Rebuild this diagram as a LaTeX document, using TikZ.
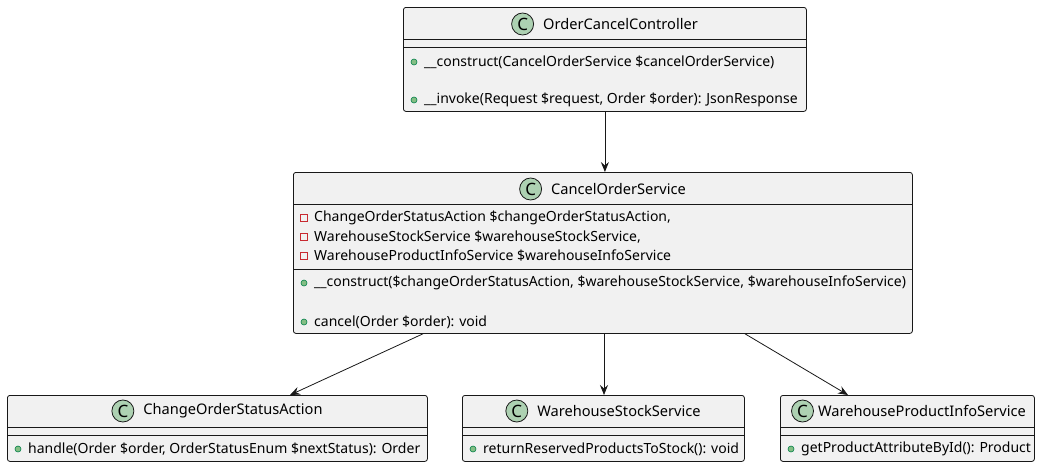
\documentclass[tikz,border=0pt]{standalone}
\usepackage{fontspec}
\setmainfont{Noto Sans}
\usetikzlibrary{arrows.meta,positioning}
\definecolor{boxfill}{HTML}{F1F1F1}
\definecolor{boxline}{HTML}{181818}
\definecolor{iconfill}{HTML}{ADD1B2}
\definecolor{pubfill}{HTML}{84BE84}
\definecolor{publine}{HTML}{038048}
\definecolor{privline}{HTML}{C82930}

\begin{document}
\begin{tikzpicture}[x=1pt,y=-1pt,
    classbox/.style={draw=boxline,fill=boxfill,rounded corners=2.5pt,line width=0.8pt,anchor=north west,inner sep=0pt},
    title/.style={inner sep=0pt,font=\fontsize{14.6}{16}\selectfont},
    cicon/.style={circle,draw=boxline,fill=iconfill,minimum size=22pt,inner sep=0pt,line width=0.8pt,font=\fontsize{17}{18}\selectfont\bfseries},
    member/.style={anchor=west,inner sep=0pt,font=\fontsize{14}{16}\selectfont},
    pub/.style={circle,draw=publine,fill=pubfill,minimum size=6pt,inner sep=0pt,line width=0.6pt},
    priv/.style={rectangle,draw=privline,minimum size=7pt,inner sep=0pt,line width=0.7pt},
    sep/.style={draw=boxline,line width=0.8pt},
    dep/.style={draw=boxline,line width=0.8pt,-{Stealth[length=10pt,width=8pt,inset=3.5pt]}}]
    \useasboundingbox[fill=white] (0,0) rectangle (1040,467);

    % class boxes
    \node[classbox,minimum width=403pt,minimum height=104pt] (ctrl) at (403,7) {};
    \node[classbox,minimum width=619pt,minimum height=161pt] (cancelSvc) at (293,172) {};
    \node[classbox,minimum width=420pt,minimum height=66pt] (statusAction) at (7,395) {};
    \node[classbox,minimum width=282pt,minimum height=66pt] (stockSvc) at (462,395) {};
    \node[classbox,minimum width=254pt,minimum height=66pt] (infoSvc) at (780,395) {};

    % compartments
    \draw[sep] (ctrl.west |- 0,39.5) -- (ctrl.east |- 0,39.5);
    \draw[sep] (ctrl.west |- 0,47.5) -- (ctrl.east |- 0,47.5);
    \draw[sep] (cancelSvc.west |- 0,204) -- (cancelSvc.east |- 0,204);
    \draw[sep] (cancelSvc.west |- 0,269) -- (cancelSvc.east |- 0,269);
    \foreach \c in {statusAction,stockSvc,infoSvc} {
        \draw[sep] (\c.west |- 0,427) -- (\c.east |- 0,427);
        \draw[sep] (\c.west |- 0,435) -- (\c.east |- 0,435);
    }

    % titles
    \node[title] (ctrlTitle) at (620.5,24) {OrderCancelController};
    \node[cicon,left=9pt of ctrlTitle] (ctrlIcon) {C};
    \node[title] (cancelSvcTitle) at (618.5,189) {CancelOrderService};
    \node[cicon,left=9pt of cancelSvcTitle] (cancelSvcIcon) {C};
    \node[title] (statusActionTitle) at (233,411) {ChangeOrderStatusAction};
    \node[cicon,left=9pt of statusActionTitle] (statusActionIcon) {C};
    \node[title] (stockSvcTitle) at (619,411) {WarehouseStockService};
    \node[cicon,left=9pt of stockSvcTitle] (stockSvcIcon) {C};
    \node[title] (infoSvcTitle) at (922,411) {WarehouseProductInfoService};
    \node[cicon,left=4pt of infoSvcTitle] (infoSvcIcon) {C};

    % members
    \node[pub] (ctrlPubA) at (414,62) {};
    \node[member] (ctrlM1) at (424,62) {\_\_construct(CancelOrderService \$cancelOrderService)};
    \node[pub] (ctrlPubB) at (414,100) {};
    \node[member] (ctrlM2) at (424,100) {\_\_invoke(Request \$request, Order \$order): JsonResponse};

    \node[priv] (svcPrivA) at (304,218) {};
    \node[member] (svcF1) at (314,218) {ChangeOrderStatusAction \$changeOrderStatusAction,};
    \node[priv] (svcPrivB) at (304,237) {};
    \node[member] (svcF2) at (314,237) {WarehouseStockService \$warehouseStockService,};
    \node[priv] (svcPrivC) at (304,256) {};
    \node[member] (svcF3) at (314,256) {WarehouseProductInfoService \$warehouseInfoService};
    \node[pub] (svcPubA) at (304,283) {};
    \node[member] (svcM1) at (314,283) {\_\_construct(\$changeOrderStatusAction, \$warehouseStockService, \$warehouseInfoService)};
    \node[pub] (svcPubB) at (304,322) {};
    \node[member] (svcM2) at (314,322) {cancel(Order \$order): void};

    \node[pub] (actionPub) at (18,449) {};
    \node[member] (actionM1) at (28,449) {handle(Order \$order, OrderStatusEnum \$nextStatus): Order};
    \node[pub] (stockPub) at (473,449) {};
    \node[member] (stockM1) at (483,449) {returnReservedProductsToStock(): void};
    \node[pub] (infoPub) at (791,449) {};
    \node[member] (infoM1) at (801,449) {getProductAttributeById(): Product};

    % dependencies
    \draw[dep] (ctrl.south) -- (ctrl.south |- cancelSvc.north);
    \draw[dep] (423,0 |- cancelSvc.south) -- (290,0 |- statusAction.north);
    \draw[dep] (604,0 |- cancelSvc.south) -- (604,0 |- stockSvc.north);
    \draw[dep] (745,0 |- cancelSvc.south) -- (848,0 |- infoSvc.north);
\end{tikzpicture}
\end{document}
